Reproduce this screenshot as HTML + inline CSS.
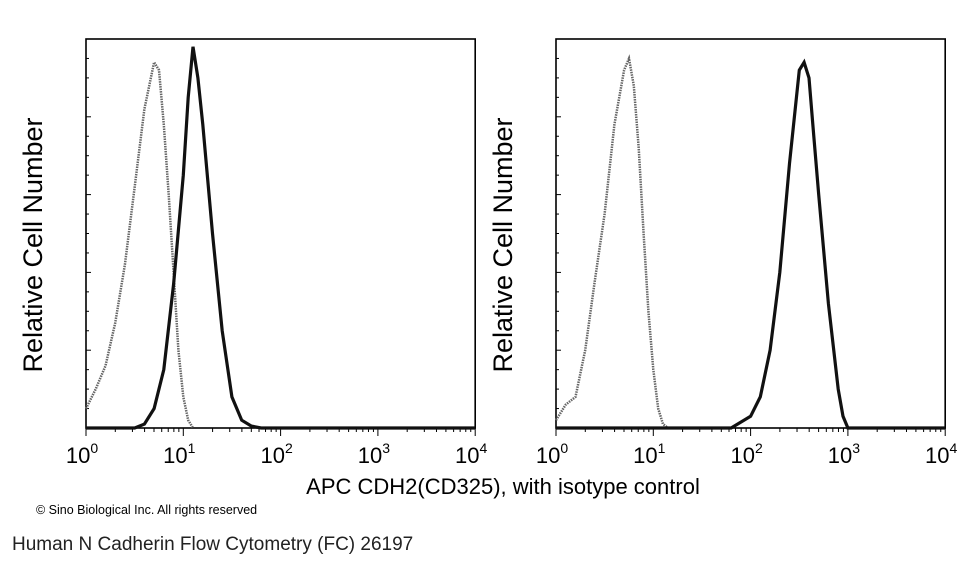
<!DOCTYPE html>
<html><head><meta charset="utf-8">
<style>
html,body{margin:0;padding:0;background:#fff;}
body{width:960px;height:563px;overflow:hidden;position:relative;font-family:"Liberation Sans",sans-serif;}
</style></head>
<body>
<svg id="chart" width="960" height="563" xmlns="http://www.w3.org/2000/svg" style="position:absolute;left:0;top:0">
<text x="503" y="494" text-anchor="middle" font-family="Liberation Sans, sans-serif" font-size="22">APC CDH2(CD325), with isotype control</text>
<text x="36" y="514" font-family="Liberation Sans, sans-serif" font-size="12.5">© Sino Biological Inc. All rights reserved</text>
<text x="12" y="550" font-family="Liberation Sans, sans-serif" font-size="19" fill="#222">Human N Cadherin Flow Cytometry (FC) 26197</text>
</svg>
<script>
const tickLabels=["0","1","2","3","4"];
const leftIsoX=[0,0.1,0.2,0.3,0.4,0.5,0.6,0.7,0.75,0.8,0.85,0.9,0.95,1.0,1.05,1.1];
const leftIsoY=[0.05,0.1,0.16,0.27,0.42,0.62,0.82,0.94,0.92,0.78,0.6,0.4,0.2,0.08,0.02,0];
const leftCdhX=[0,0.5,0.6,0.7,0.8,0.9,1.0,1.05,1.1,1.15,1.2,1.3,1.4,1.5,1.6,1.7,1.8,4];
const leftCdhY=[0,0,0.01,0.05,0.15,0.37,0.65,0.85,0.98,0.9,0.78,0.5,0.25,0.08,0.02,0.005,0,0];
const rightIsoX=[0,0.1,0.2,0.3,0.4,0.5,0.6,0.7,0.75,0.8,0.85,0.9,0.95,1.0,1.05,1.1,1.15];
const rightIsoY=[0.02,0.06,0.08,0.2,0.38,0.55,0.78,0.92,0.95,0.88,0.72,0.5,0.3,0.15,0.05,0.01,0];
const rightCdhX=[0,1.8,2.0,2.1,2.2,2.3,2.4,2.5,2.55,2.6,2.65,2.7,2.8,2.9,2.95,3.0,4];
const rightCdhY=[0,0,0.03,0.08,0.2,0.4,0.68,0.92,0.94,0.9,0.75,0.6,0.32,0.1,0.03,0,0];

const svg=document.getElementById('chart');
const NS='http://www.w3.org/2000/svg';
function mk(tag,attrs){const e=document.createElementNS(NS,tag);for(const k in attrs)e.setAttribute(k,attrs[k]);svg.appendChild(e);return e;}
const yTop=39,yBot=428,dec=97.3;
function panel(x0,name,isoX,isoY,cdX,cdY){
  const sx=v=>x0+v*dec, sy=v=>yBot-v*(yBot-yTop);
  const fr=mk('rect',{x:x0,y:yTop,width:4*dec,height:yBot-yTop,fill:'none',stroke:'#000','stroke-width':1.6});
  
  
  for(let i=0;i<=20;i++){const y=yBot-i*(yBot-yTop)/20;const major=i%4==0&&i>0;
    const t=mk('line',{x1:x0,x2:x0+(major?5:3),y1:y,y2:y,stroke:'#000','stroke-width':1});
    
    }
  for(let d=0;d<4;d++){for(let m=1;m<10;m++){const x=sx(d+Math.log10(m));
    const t=mk('line',{x1:x,x2:x,y1:yBot,y2:yBot+(m==1?8:4),stroke:'#000','stroke-width':1});
    
    }}
  const tl=mk('line',{x1:sx(4),x2:sx(4),y1:yBot,y2:yBot+8,stroke:'#000'});
  
  
  tickLabels.forEach((l,i)=>{const t=mk('text',{x:sx(i)-4,y:463,'text-anchor':'middle','font-size':22,'font-family':'Liberation Sans, sans-serif'});
    
    
    t.innerHTML='10<tspan dy="-10" font-size="14">'+l+'</tspan>';});
  const yl=mk('text',{x:0,y:0,transform:'translate('+(x0-44)+',245) rotate(-90)','text-anchor':'middle','font-size':27,'font-family':'Liberation Sans, sans-serif'});
  
  
  yl.textContent='Relative Cell Number';
  const path=(xs,ys)=>xs.map((v,i)=>(i?'L':'M')+sx(v).toFixed(1)+','+sy(ys[i]).toFixed(1)).join(' ');
  const iso=mk('path',{d:path(isoX,isoY),fill:'none',stroke:'#666','stroke-width':2.5,'stroke-dasharray':'1.5 1'});
  
  
  const cd=mk('path',{d:path(cdX,cdY),fill:'none',stroke:'#111','stroke-width':3.2});
  
  
}
panel(86,'left',leftIsoX,leftIsoY,leftCdhX,leftCdhY);
panel(556,'right',rightIsoX,rightIsoY,rightCdhX,rightCdhY);
</script>
</body></html>
